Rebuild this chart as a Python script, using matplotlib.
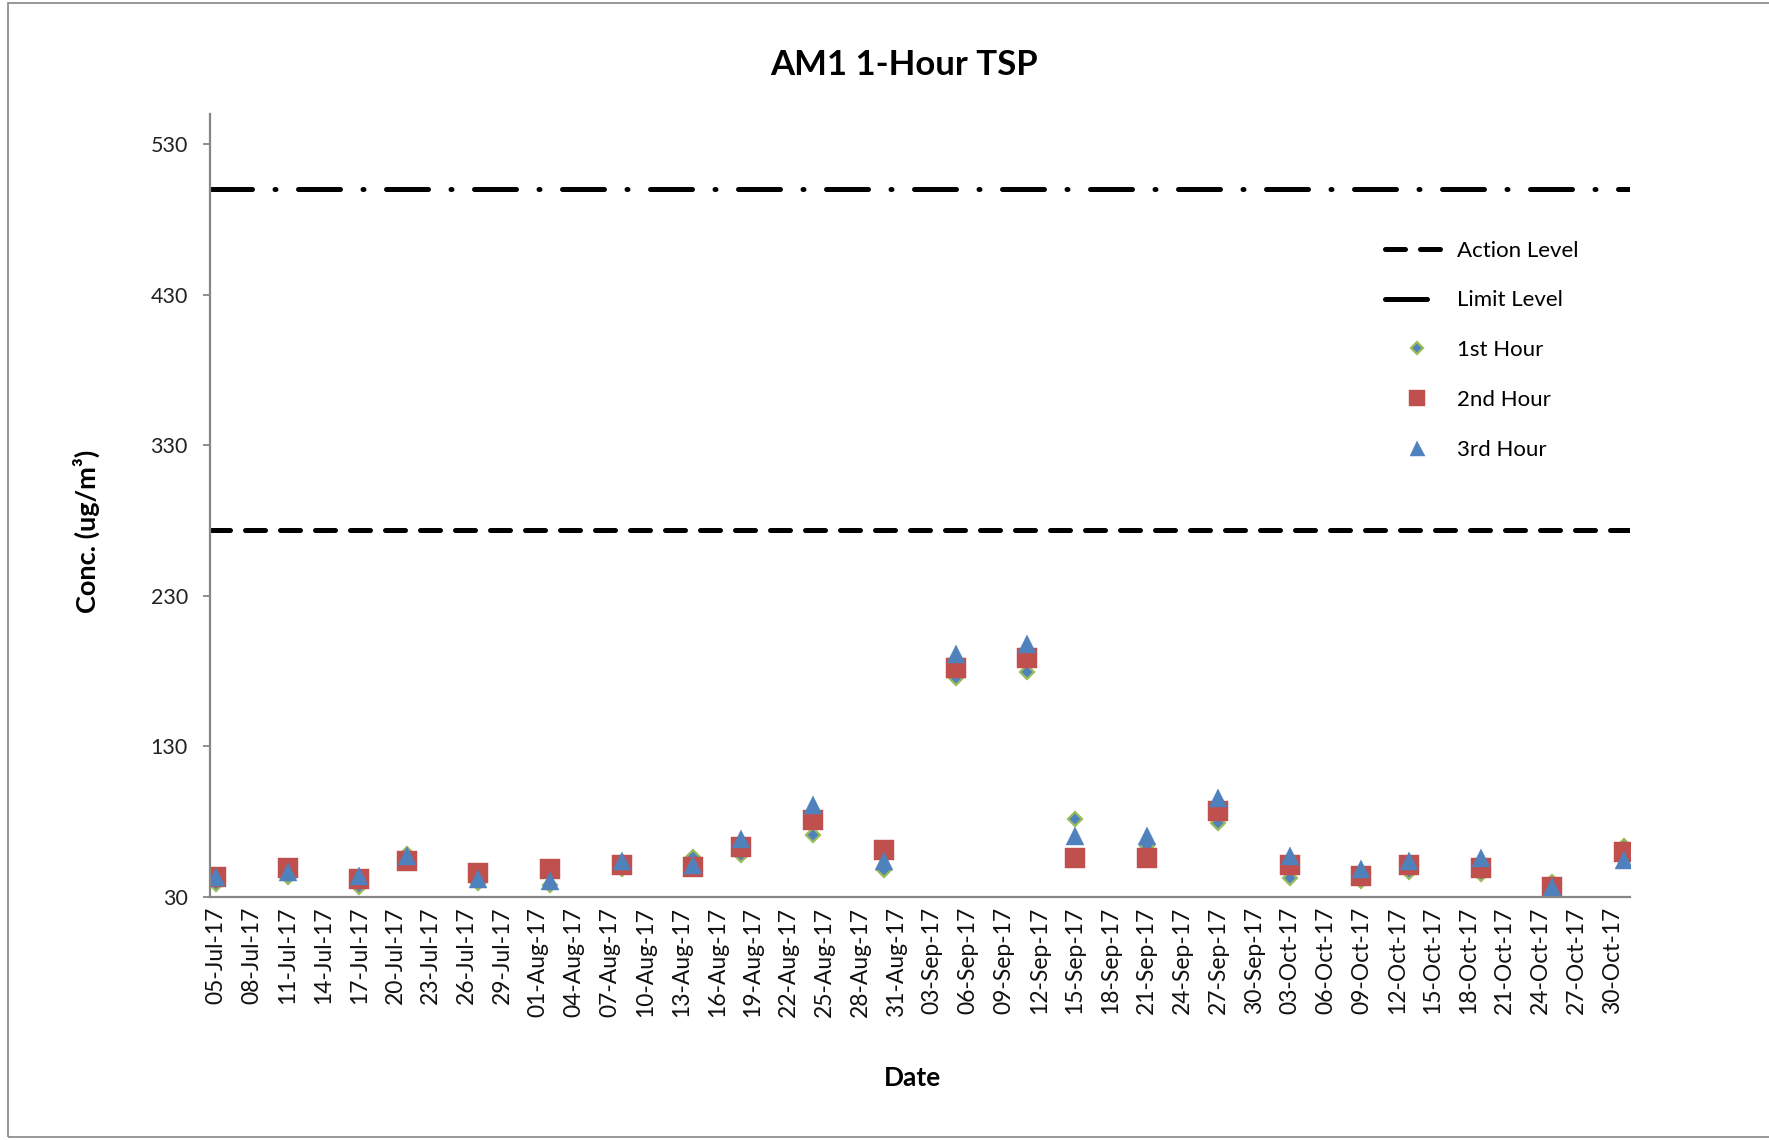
import numpy as np
import matplotlib
matplotlib.use("Agg")
import matplotlib.pyplot as plt
import matplotlib.dates as mdates
from matplotlib.patches import Rectangle
import datetime as dt

plt.rcParams['font.family'] = ['Lato', 'DejaVu Sans']

# --- data ---
dates = ['2017-07-05', '2017-07-11', '2017-07-17', '2017-07-21', '2017-07-27',
         '2017-08-02', '2017-08-08', '2017-08-14', '2017-08-18', '2017-08-24',
         '2017-08-30', '2017-09-05', '2017-09-11', '2017-09-15', '2017-09-21',
         '2017-09-27', '2017-10-03', '2017-10-09', '2017-10-13', '2017-10-19',
         '2017-10-25', '2017-10-31']
hour1 = [38.6, 43.5, 36.8, 58.5, 39.0, 38.0, 48.4, 56.3, 57.9, 71.1, 47.9,
         175.7, 179.1, 81.8, 64.0, 78.9, 42.4, 40.8, 46.8, 45.3, 40.2, 63.8]
hour2 = [43.1, 49.4, 42.0, 54.1, 45.7, 48.6, 51.0, 50.1, 63.4, 81.1, 61.0,
         181.8, 188.4, 55.7, 55.7, 87.3, 51.0, 43.9, 51.0, 49.4, 36.8, 59.6]
hour3 = [43.1, 46.3, 43.9, 57.0, 42.1, 40.5, 54.2, 51.5, 68.4, 91.0, 54.0,
         191.1, 197.8, 70.6, 70.6, 96.0, 57.0, 48.7, 54.0, 56.2, 36.8, 54.6]
action_level = 274
limit_level = 500
yticks = [30, 130, 230, 330, 430, 530]

x = [dt.datetime.strptime(d, '%Y-%m-%d') for d in dates]
start = x[0] - dt.timedelta(hours=12)
end = x[-1] + dt.timedelta(hours=12)

fig = plt.figure(figsize=(17.69, 11.4), dpi=100)
ax = fig.add_axes([0.1187, 0.2132, 0.8027, 0.6868])

lw = 3.6
ax.plot([start, end], [action_level] * 2, color='black', lw=lw,
        dashes=(4, 3), dash_capstyle='round', label='Action Level')
ax.plot([start, end], [limit_level] * 2, color='black', lw=lw,
        dashes=(8.4, 4.5, 0.2, 4.5), dash_capstyle='round', label='Limit Level')

ax.plot(x, hour1, linestyle='none', marker='D', ms=7.5, mfc='#4F81BD',
        mec='#9BBB59', mew=1.6, label='1st Hour')
ax.plot(x, hour2, linestyle='none', marker='s', ms=13.8, mfc='#C0504D',
        mec='#C0504D', mew=0.3, label='2nd Hour')
ax.plot(x, hour3, linestyle='none', marker='^', ms=13.5, mfc='#4F81BD',
        mec='#4F81BD', mew=0.3, label='3rd Hour')

ax.set_xlim(start, end)
ax.set_ylim(30, 550)
ax.set_yticks(yticks)

ticks = [x[0] + dt.timedelta(days=3 * i) for i in range(40)]
ticks = [t for t in ticks if t <= end]
ax.set_xticks(ticks)
ax.xaxis.set_major_formatter(mdates.DateFormatter('%d-%b-%y'))
plt.setp(ax.get_xticklabels(), rotation=90)

for s in ['top', 'right']:
    ax.spines[s].set_visible(False)
for s in ['left', 'bottom']:
    ax.spines[s].set_color('#868686')
    ax.spines[s].set_linewidth(1.6)
ax.tick_params(axis='y', length=5, width=1.3, color='#868686', pad=11,
               labelsize=15.5, labelcolor='#222222')
ax.tick_params(axis='x', length=0, pad=7, labelsize=16.5, labelcolor='#111111')

fig.text(0.511, 0.943, 'AM1 1-Hour TSP', ha='center', va='center',
         fontsize=25, fontweight='bold')
fig.text(0.516, 0.054, 'Date', ha='center', va='center',
         fontsize=19, fontweight='bold')
fig.text(0.049, 0.534, 'Conc. (ug/m³)', ha='center', va='center',
         rotation=90, fontsize=19.5, fontweight='bold')

ax.legend(loc='upper left', bbox_to_anchor=(0.783, 0.789),
          bbox_transform=fig.transFigure, frameon=False, fontsize=16,
          handlelength=2.85, handletextpad=0.4, labelspacing=1.34,
          borderpad=0, borderaxespad=0, numpoints=1, markerscale=0.8)

fig.patches.append(Rectangle((0.0045, 0.003), 1.2, 0.994,
                             transform=fig.transFigure, fill=False,
                             edgecolor='#868686', lw=1.2))

fig.savefig('out.png', dpi=100)
